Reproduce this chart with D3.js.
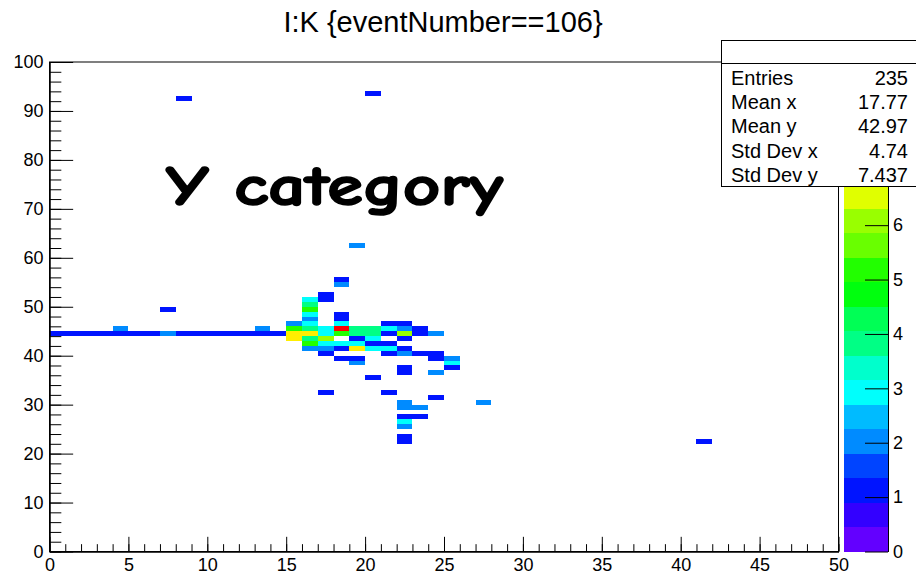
<!DOCTYPE html>
<html>
<head>
<meta charset="utf-8">
<script src="https://cdn.jsdelivr.net/npm/d3@7"></script>
<style>
  body { margin: 0; background: #fff; }
  svg text { font-family: "Liberation Sans", Arial, Helvetica, sans-serif; fill: #000; }
</style>
</head>
<body>
<div id="chart"></div>
<script>
// bin contents of the 2D histogram: low edge of x bin, low edge of y bin, entries
const cellX = [
  0, 1, 2, 3, 4, 5, 6, 7, 8, 9, 10, 11, 12, 13, 14,
  4, 13, 7, 8, 20, 19, 41, 27,
  15, 15, 15, 15,
  16, 16, 16, 16, 16, 16, 16, 16, 16, 16, 16,
  17, 17, 17, 17, 17, 17, 17, 17, 17,
  18, 18, 18, 18, 18, 18, 18, 18, 18, 18,
  19, 19, 19, 19, 19, 19, 19,
  20, 20, 20, 20, 20, 20,
  21, 21, 21, 21, 21, 21, 21,
  22, 22, 22, 22, 22, 22, 22, 22, 22, 22, 22, 22, 22, 22, 22,
  23, 23, 23, 23, 23,
  24, 24, 24, 24, 24,
  25, 25, 25
]
const cellY = [
  44, 44, 44, 44, 44, 44, 44, 44, 44, 44, 44, 44, 44, 44, 44,
  45, 45, 49, 92, 93, 62, 22, 30,
  46, 45, 44, 43,
  51, 50, 49, 48, 47, 46, 45, 44, 43, 42, 41,
  52, 51, 45, 44, 43, 42, 41, 40, 32,
  55, 54, 48, 47, 46, 45, 44, 42, 41, 39,
  45, 44, 43, 42, 41, 39, 38,
  45, 44, 43, 42, 41, 35,
  46, 45, 44, 42, 41, 40, 32,
  46, 45, 44, 43, 41, 40, 37, 36, 30, 29, 27, 26, 25, 23, 22,
  45, 44, 40, 29, 27,
  44, 40, 39, 36, 31,
  39, 38, 37
]
const cellN = [
  1, 1, 1, 1, 1, 1, 1, 2, 1, 1, 1, 1, 1, 1, 1,
  2, 2, 1, 1, 1, 2, 1, 2,
  2, 5, 7, 7,
  3, 4, 5, 3, 2, 3, 4, 7, 4, 5, 2,
  1, 1, 3, 3, 6, 3, 2, 1, 1,
  1, 2, 1, 1, 3, 9, 5, 3, 1, 1,
  4, 4, 1, 3, 7, 1, 2,
  4, 4, 3, 1, 3, 1,
  1, 3, 1, 1, 3, 1, 1,
  1, 2, 6, 1, 1, 2, 1, 1, 2, 2, 1, 3, 2, 1, 1,
  1, 1, 1, 2, 1,
  2, 1, 1, 2, 1,
  2, 3, 1
]

const statLabels = ["Entries", "Mean x", "Mean y", "Std Dev x", "Std Dev y"]
const statValues = ["235", "17.77", "42.97", "4.74", "7.437"]

const xTicks = [0, 5, 10, 15, 20, 25, 30, 35, 40, 45, 50]
const yTicks = [0, 10, 20, 30, 40, 50, 60, 70, 80, 90, 100]
// labels 7..9 sit under the stats box, so only these show
const zTicks = [0, 1, 2, 3, 4, 5, 6]

const title = "I:K {eventNumber==106}"
const overlayText = "Y category"

// canvas
const W = 916, H = 578
const frame = {left: 49.5, right: 838.5, top: 62, bottom: 551.5}

const svg = d3.select("#chart")
  .append("svg")
  .attr("width", W)
  .attr("height", H)

const x = d3.scaleLinear().domain([0, 50]).range([frame.left, frame.right])
const y = d3.scaleLinear().domain([0, 100]).range([frame.bottom, frame.top])

// ROOT "pretty" palette: 49 hues violet -> orange, last one red
const pretty = d3.range(49)
  .map(i => d3.hsl(280 - (i + 1) * 5.6, 1, 0.5).formatHex())
  .concat(["#ff0000"])

const nContours = 20
const zMax = d3.max(cellN)
const levels = d3.range(1, nContours).map(k => k * zMax / nContours)
const levelColors = d3.range(nContours)
  .map(k => pretty[Math.floor((k + 0.99) * pretty.length / nContours)])
const color = d3.scaleThreshold().domain(levels).range(levelColors)

const cells = cellX.map((cx, i) => ({x: cx, y: cellY[i], n: cellN[i]}))

// cells
svg.append("g")
  .selectAll("rect")
  .data(cells)
  .enter()
  .append("rect")
  .attr("x", d => x(d.x))
  .attr("width", d => x(d.x + 1) - x(d.x))
  .attr("y", d => y(d.y + 1))
  .attr("height", d => y(d.y) - y(d.y + 1))
  .attr("fill", d => color(d.n))
  .attr("shape-rendering", "crispEdges")

// frame
svg.append("rect")
  .attr("x", frame.left)
  .attr("y", frame.top)
  .attr("width", frame.right - frame.left)
  .attr("height", frame.bottom - frame.top)
  .attr("fill", "none")
  .attr("stroke", "#000")
  .attr("stroke-width", 1)

// x axis, ticks point inside the frame
const xLen = 0.03 * (frame.bottom - frame.top)
svg.append("g")
  .attr("transform", `translate(0, ${frame.bottom})`)
  .call(d3.axisBottom(x).tickValues(d3.range(0, 51)).tickSize(-xLen / 2).tickSizeOuter(0).tickFormat(""))
const xMajor = svg.append("g")
  .attr("transform", `translate(0, ${frame.bottom})`)
  .call(d3.axisBottom(x).tickValues(xTicks).tickSize(-xLen).tickSizeOuter(0).tickPadding(6))
xMajor.selectAll("text").attr("font-size", 18).attr("dy", "0.75em")

// y axis
const yLen = 0.03 * (frame.right - frame.left)
svg.append("g")
  .attr("transform", `translate(${frame.left}, 0)`)
  .call(d3.axisLeft(y).tickValues(d3.range(0, 101, 2)).tickSize(-yLen / 2).tickSizeOuter(0).tickFormat(""))
const yMajor = svg.append("g")
  .attr("transform", `translate(${frame.left}, 0)`)
  .call(d3.axisLeft(y).tickValues(yTicks).tickSize(-yLen).tickSizeOuter(0).tickPadding(6))
yMajor.selectAll("text").attr("font-size", 18)

svg.selectAll(".domain").attr("stroke", "#000")
svg.selectAll(".tick line").attr("stroke", "#000")
svg.selectAll(".tick text").attr("font-family", null)

// colour palette on the right
const pal = {left: 843.5, right: 888}
const z = d3.scaleLinear().domain([0, zMax]).range([frame.bottom, frame.top])

svg.append("g")
  .selectAll("rect")
  .data(levelColors)
  .enter()
  .append("rect")
  .attr("x", pal.left)
  .attr("width", pal.right - pal.left)
  .attr("y", (c, k) => z((k + 1) * zMax / nContours))
  .attr("height", (c, k) => z(k * zMax / nContours) - z((k + 1) * zMax / nContours))
  .attr("fill", c => c)
  .attr("shape-rendering", "crispEdges")

const zAxis = svg.append("g")
  .attr("transform", `translate(${pal.right}, 0)`)
  .call(d3.axisRight(z).tickValues(zTicks).tickSize(-23).tickSizeOuter(0).tickPadding(5))
zAxis.selectAll("text").attr("font-size", 18)
zAxis.selectAll("line, path").attr("stroke", "#000")

// "Y category" label
svg.append("text")
  .attr("x", 166)
  .attr("y", 205)
  .attr("font-size", 57)
  .attr("font-weight", "bold")
  .style("font-family", "'Comic Sans MS', 'Comic Neue', 'DejaVu Sans', sans-serif")
  .style("stroke", "#000")
  .style("stroke-width", 1.6)
  .attr("textLength", 337)
  .attr("lengthAdjust", "spacingAndGlyphs")
  .text(overlayText)

// stats box
const stats = svg.append("g")
stats.append("rect")
  .attr("x", 721.5)
  .attr("y", 40.5)
  .attr("width", 220)
  .attr("height", 146)
  .attr("fill", "#fff")
  .attr("stroke", "#000")
stats.append("line")
  .attr("x1", 721.5).attr("x2", W)
  .attr("y1", 63.5).attr("y2", 63.5)
  .attr("stroke", "#000")

stats.selectAll("text.label")
  .data(statLabels)
  .enter()
  .append("text")
  .attr("class", "label")
  .attr("x", 731)
  .attr("y", (d, i) => 85 + i * 24.2)
  .attr("font-size", 20)
  .text(d => d)

stats.selectAll("text.value")
  .data(statValues)
  .enter()
  .append("text")
  .attr("class", "value")
  .attr("x", 908)
  .attr("y", (d, i) => 85 + i * 24.2)
  .attr("font-size", 20)
  .attr("text-anchor", "end")
  .text(d => d)

// title
svg.append("text")
  .attr("x", 443)
  .attr("y", 31.5)
  .attr("font-size", 29)
  .attr("text-anchor", "middle")
  .text(title)
</script>
</body>
</html>
